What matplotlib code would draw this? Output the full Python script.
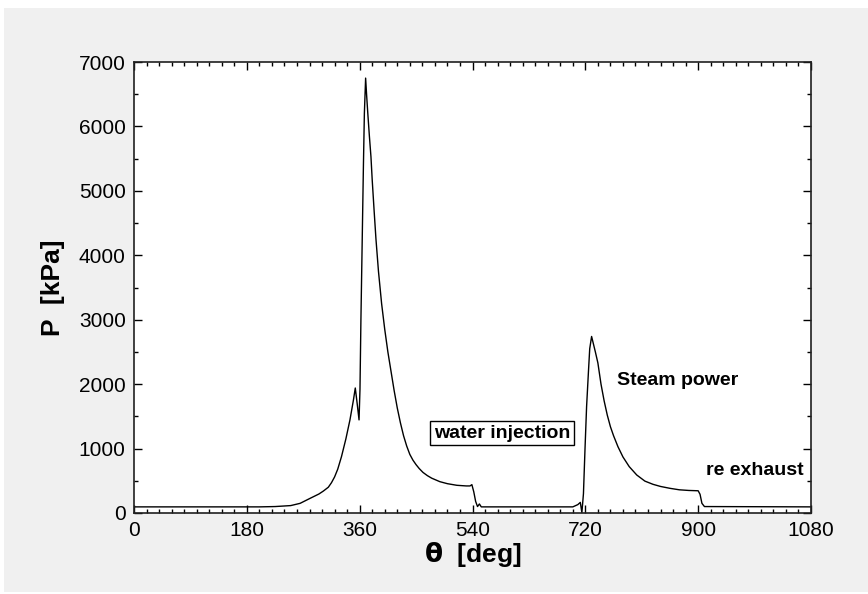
import matplotlib.pyplot as plt
from matplotlib.patches import Rectangle
from matplotlib.ticker import MultipleLocator

# crank angle [deg] and cylinder pressure [kPa]
theta = [0, 200, 225, 250, 265, 281, 295, 302, 310, 315, 320, 325, 331, 338, 344.5,
         350, 353, 356, 359, 360.5, 362, 364, 366, 367.5, 369.5, 371, 373, 375.5,
         378, 380, 383, 386, 390, 395, 400, 405, 410, 415, 420, 425, 430, 435, 440,
         445, 450, 455, 461, 468, 475, 488, 500, 515, 530, 536, 539, 542, 545, 548,
         551, 554, 700, 708, 712, 714.5, 717, 719.5, 722, 725, 727, 730, 733, 736,
         740, 745, 750, 755, 760, 765, 772, 780, 790, 802, 815, 828, 840, 855, 870,
         885, 900, 903, 906, 910, 1080]
pressure = [95, 95, 100, 115, 150, 228, 295, 340, 400, 470, 560, 680, 875, 1150, 1445,
            1750, 1940, 1700, 1445, 1920, 3000, 4200, 5400, 6200, 6750, 6500, 6200, 5850,
            5530, 5170, 4700, 4250, 3750, 3250, 2850, 2500, 2200, 1900, 1630, 1400, 1200, 1040, 910,
            820, 750, 690, 630, 580, 540, 486, 455, 430, 420, 420, 440, 330, 180, 100,
            140, 95, 95, 130, 165, 5, 300, 1000, 1650, 2200, 2550, 2740, 2620, 2500,
            2330, 2000, 1740, 1520, 1340, 1200, 1030, 870, 720, 590, 495, 445, 412, 383, 360,
            350, 345, 290, 150, 100, 95]

xticks = [0, 180, 360, 540, 720, 900, 1080]
yticks = [0, 1000, 2000, 3000, 4000, 5000, 6000, 7000]

plt.rcParams['font.family'] = ['Liberation Sans', 'DejaVu Sans']

fig = plt.figure(figsize=(8.68, 5.94), dpi=100, facecolor='white')
# grey window panel behind the plot
fig.patches.append(Rectangle((4/868, 2/594), 1, 584/594, transform=fig.transFigure,
                             facecolor='#f0f0f0', edgecolor='none', zorder=-1))

ax = fig.add_axes([134/868, 1 - 513/594, (811-134)/868, (513-62)/594])
ax.plot(theta, pressure, color='black', linewidth=1.0)

ax.set_xlim(0, 1080)
ax.set_ylim(0, 7000)
ax.set_xticks(xticks)
ax.set_yticks(yticks)
ax.xaxis.set_minor_locator(MultipleLocator(20))
ax.yaxis.set_minor_locator(MultipleLocator(500))
ax.tick_params(which='both', direction='in', top=True, right=True,
               labelsize=15, pad=6)
ax.tick_params(which='major', length=6, width=1)
ax.tick_params(which='minor', length=3, width=1)
for s in ax.spines.values():
    s.set_linewidth(1.2)
    s.set_color('#202020')

ax.set_xlabel(r'$\mathbf{\theta}$  [deg]', fontsize=19, fontweight='bold', labelpad=0)
ax.set_ylabel('P  [kPa]', fontsize=19, fontweight='bold', labelpad=10)

ax.text(587, 1240, 'water injection', fontsize=14, fontweight='bold',
        ha='center', va='center',
        bbox=dict(boxstyle='square,pad=0.2', facecolor='white', edgecolor='black', linewidth=1))
ax.text(770, 2050, 'Steam power', fontsize=14, fontweight='bold', ha='left', va='center')
ax.text(1069, 660, 're exhaust', fontsize=14, fontweight='bold', ha='right', va='center')

fig.savefig('out.png', dpi=100, facecolor=fig.get_facecolor())
